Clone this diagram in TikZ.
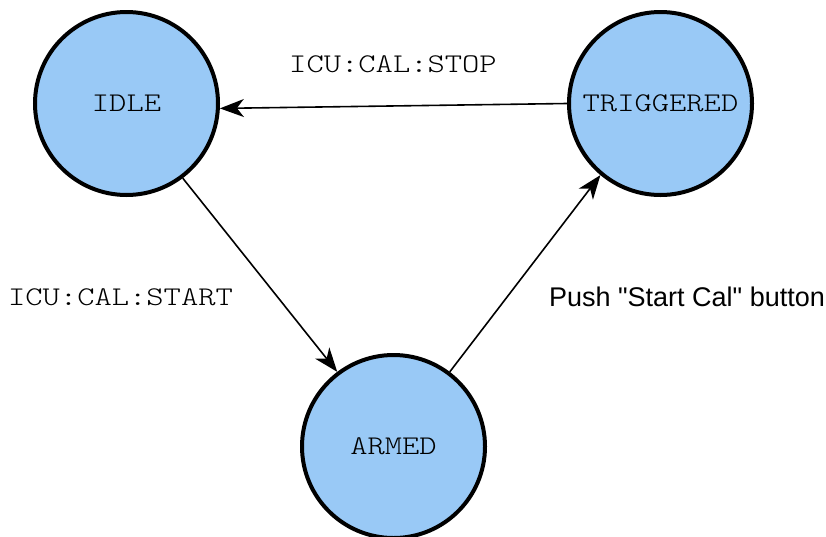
\documentclass[tikz,border=0pt]{standalone}
\usepackage{fontspec}
\setmainfont{Liberation Sans}
\newfontfamily\cmdttfont[FakeStretch=1.22]{lmmonolt10-regular.otf}
\usepackage{xcolor}
\usetikzlibrary{positioning, calc, arrows.meta}
\definecolor{StateBlue}{RGB}{153,201,246}
\newcommand{\cmdfont}{\cmdttfont\fontsize{27}{30}\selectfont}
\tikzset{
    statenode/.style={
        circle, draw, line width=4pt, fill=StateBlue, minimum size=183pt,
        inner sep=0pt, font=\cmdfont
    },
    trans/.style={
        -{Stealth[length=24pt, width=18pt, inset=7pt]}, line width=1.6pt
    },
    cmdlabel/.style={
        font=\cmdfont
    },
    btnlabel/.style={
        font=\fontsize{27}{30}\selectfont
    }
}

\begin{document}
\begin{tikzpicture}[x=1pt, y=-1pt]
    \useasboundingbox (0,0) rectangle (826,536);
    \node[statenode] (idle) at (126.5,103.5) {IDLE};
    \node[statenode, right=347pt of idle] (trig) {TRIGGERED};
    \node[statenode] (armed) at ($(idle)!0.5!(trig) + (0,343)$) {ARMED};
    \draw[trans] (trig.180) -- (idle.-3);
    \draw[trans] (idle.-53) -- (armed.127);
    \draw[trans] (armed.53) -- (trig.-130);
    \node[cmdlabel] (stoplbl) at (393,64) {ICU:CAL:STOP};
    \node[cmdlabel] (startlbl) at (120.5,297) {ICU:CAL:START};
    \node[btnlabel] (btnlbl) at (687,297) {Push \textquotedbl Start Cal\textquotedbl{} button};
\end{tikzpicture}
\end{document}
